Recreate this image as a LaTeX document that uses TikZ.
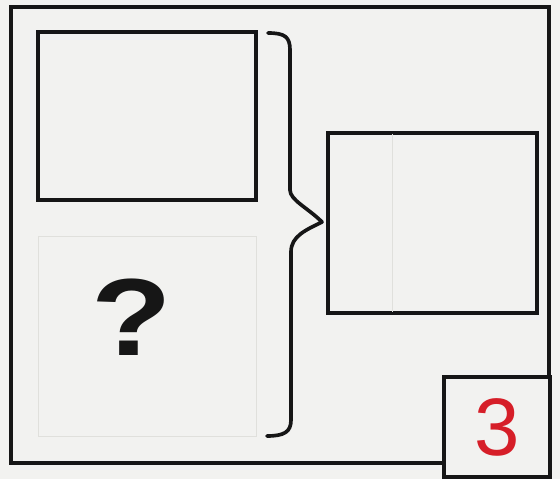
\documentclass[tikz,border=0pt]{standalone}
\usepackage{fontspec}
\usepackage{tikz}
\usepackage{xcolor}
\usetikzlibrary{positioning}
\newfontfamily\signfont{Liberation Sans}
\definecolor{paper}{RGB}{242,242,240}
\definecolor{ink}{RGB}{22,22,22}
\definecolor{mark-red}{RGB}{214,30,40}
\definecolor{pencil}{RGB}{224,224,220}

\begin{document}
\begin{tikzpicture}[x=0.025cm, y=-0.025cm,
  frame/.style={draw=ink, line width=2.6pt, inner sep=0pt, fill=paper},
  guide/.style={draw=pencil, line width=0.6pt, inner sep=0pt},
  curly/.style={draw=ink, line width=2.6pt, line join=round, line cap=round},
]
  % Sheet
  \fill[paper] (0,0) rectangle (560,479);
  \useasboundingbox (0,0) rectangle (560,479);

  % Outer frame
  \node[frame, minimum width=13.45cm, minimum height=11.4cm] (outer) at (280,235) {};

  % Left column
  \node[frame, minimum width=5.45cm, minimum height=4.2cm] (given) at (147,116) {};
  \node[guide, minimum width=5.45cm, minimum height=5cm] (missing) at (147,336) {};
  \node[font=\signfont\bfseries\fontsize{78}{80}\selectfont, ink, inner sep=0pt] (ask) at (132,317) {\scalebox{1.2}[1]{?}};

  % Brace
  \draw[curly] (268,33) .. controls (285,33) and (290,37) .. (290,50) -- (290,190)
    .. controls (290,200) and (308,208) .. (322,222)
    .. controls (306,230) and (291,236) .. (291,252) -- (291,420)
    .. controls (291,432) and (284,436) .. (267,436);

  % Right column
  \node[frame, minimum width=5.225cm, minimum height=4.5cm] (answer) at (432.5,223) {};
  \draw[guide, shorten <=2pt, shorten >=2pt] ([xshift=-0.99cm]answer.north) -- ([xshift=-0.99cm]answer.south);

  % Number box
  \node[frame, minimum width=2.65cm, minimum height=2.5cm] (number) at (497,427) {};
  \node[font=\signfont\fontsize{58}{60}\selectfont, mark-red, inner sep=0pt] (digit) at (number) {3};
\end{tikzpicture}
\end{document}
